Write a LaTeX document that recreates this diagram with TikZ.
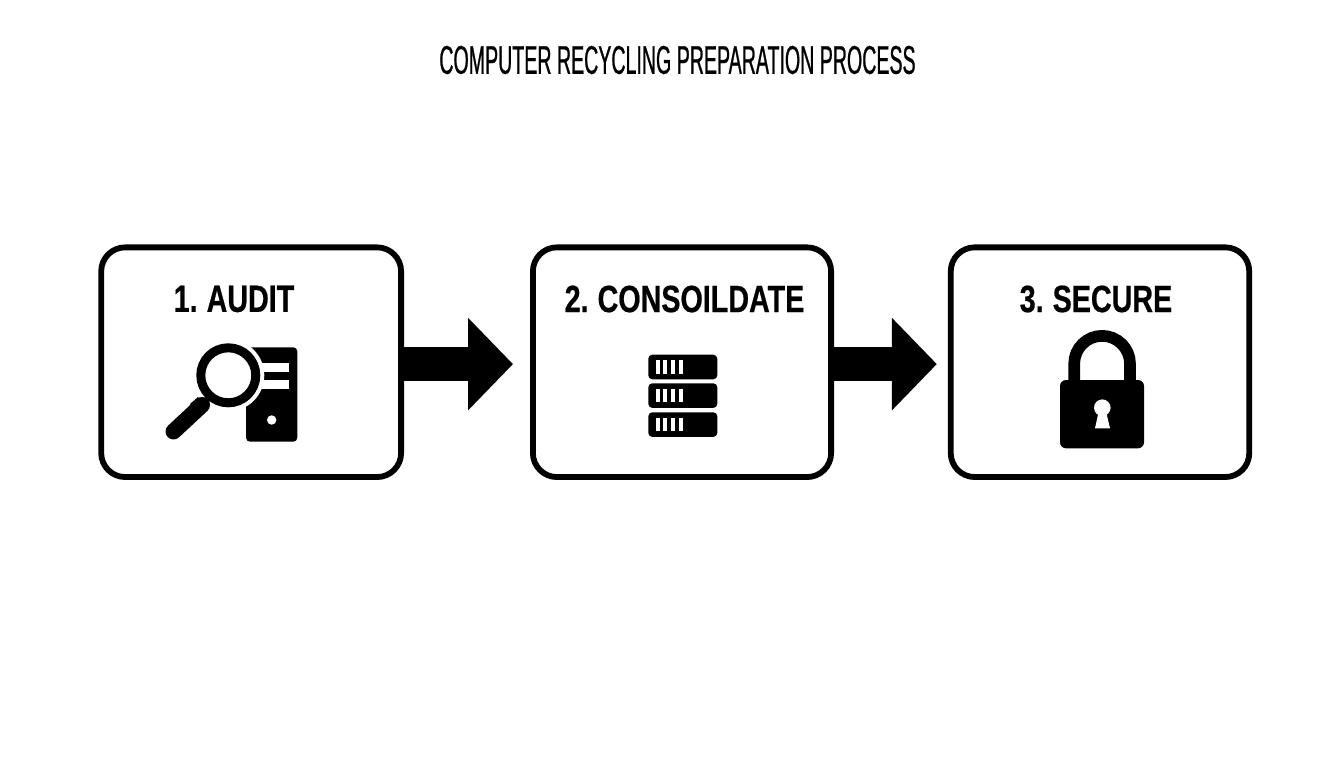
\documentclass[tikz,border=0pt]{standalone}
\usepackage{fontspec}
\usetikzlibrary{arrows.meta,calc}
\newfontfamily\titlefont[FakeStretch=0.49,FakeBold=0.6]{Liberation Sans}
\newfontfamily\labelfont[FakeStretch=0.755,FakeBold=0.5,WordSpace=0.8]{Liberation Sans Bold}
\tikzset{
  stepbox/.style={draw=black,fill=white,line width=5.8pt,rounded corners=24pt,rectangle,minimum height=229.7pt,outer sep=0pt,inner sep=0pt},
  steplabel/.style={inner sep=0pt,text=black,font=\labelfont\fontsize{38}{38}\selectfont},
  bigarrow/.style={line width=34.5pt,draw=black,-{Triangle[length=45pt,width=90pt]}},
  ink/.style={fill=black,draw=none},
  cut/.style={fill=white,draw=none}
}
\begin{document}
\begin{tikzpicture}[x=1pt,y=-1pt]
\useasboundingbox (0,0) rectangle (1344,768);
\fill[white] (0,0) rectangle (1344,768);
\node[inner sep=0pt,text=black,font=\titlefont\fontsize{40}{40}\selectfont] (title) at (677.5,60) {COMPUTER RECYCLING PREPARATION PROCESS};
\node[stepbox,minimum width=299.9pt] (b1) at (251.15,362.2) {};
\node[stepbox,minimum width=298.2pt] (b2) at (682,362.2) {};
\node[stepbox,minimum width=298.5pt] (b3) at (1100,362.2) {};
\node[steplabel] (l1) at (234,299) {1. AUDIT};
\node[steplabel] (l2) at (684.5,299) {2. CONSOILDATE};
\node[steplabel] (l3) at (1096,299) {3. SECURE};
\draw[bigarrow,shorten >=19.9pt] ($(b1.east)+(0,1.9)$) -- ($(b2.west)+(0,1.9)$);
\draw[bigarrow,shorten >=13.9pt] ($(b2.east)+(0,1.9)$) -- ($(b3.west)+(0,1.9)$);
% audit icon
\fill[ink,rounded corners=4pt] (246,347.3) rectangle (297.3,441.7);
\fill[cut] (255,362.7) rectangle (289.3,371.7);
\fill[cut] (255,380) rectangle (289.3,389.3);
\fill[cut] (271.7,420) circle[radius=4.7pt];
\fill[cut] (228.3,375.3) circle[radius=36pt];
\draw[black,line width=9pt] (228.3,375.3) circle[radius=27.5pt];
\draw[black,line width=6pt] (212,395) -- (200,406);
\draw[black,line width=16pt,line cap=round] (202,405) -- (173.5,431.5);
\fill[black] (198,397) -- (208,407) -- (200,414) -- (190,404) -- cycle;
% server icon
\foreach \t in {354.7,383.3,412.3}{
  \fill[ink,rounded corners=4pt] (648.3,\t) rectangle (717.3,\t+24.6);
  \foreach \x in {655.7,663.3,671,678.7}{
    \fill[cut] (\x,\t+5.7) rectangle (\x+4,\t+19);
  }
}
% lock icon
\draw[black,line width=11.7pt,rounded corners=27.9pt] (1074.2,385) -- (1074.2,335.85) -- (1130,335.85) -- (1130,385);
\fill[ink,rounded corners=6pt] (1060,380) rectangle (1144,448.3);
\fill[cut] (1102.3,407.7) circle[radius=8.3pt];
\fill[cut] (1099,410) -- (1105.7,410) -- (1110,428.3) -- (1095,428.3) -- cycle;
\end{tikzpicture}
\end{document}
